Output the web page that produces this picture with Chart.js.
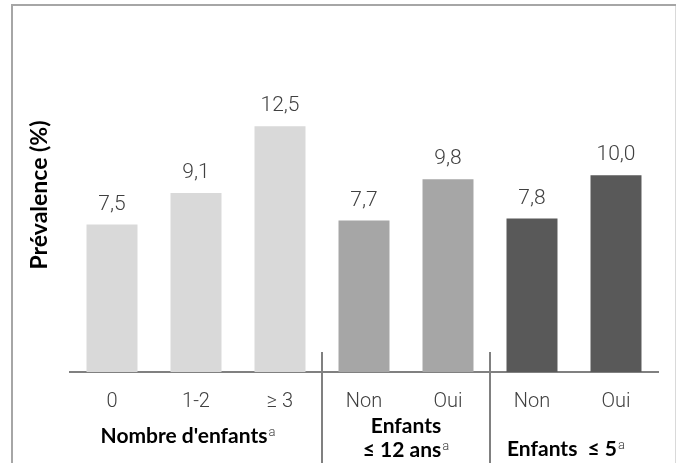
<!DOCTYPE html>
<html>
<head>
<meta charset="utf-8">
<script src="https://cdn.jsdelivr.net/npm/chart.js@4"></script>
<style>
  html, body { margin: 0; padding: 0; background: #fff; }
  #wrap { position: relative; width: 677px; height: 463px; }
</style>
</head>
<body>
<div id="wrap"><canvas id="chart" width="677" height="463"></canvas></div>
<script>
// Data
const CATEGORIES = ['0', '1-2', '≥ 3', 'Non', 'Oui', 'Non', 'Oui'];
const PREVALENCE = [7.5, 9.1, 12.5, 7.7, 9.8, 7.8, 10.0];
const GROUP_TITLES = [["Nombre d'enfants"], ['Enfants', '≤ 12 ans'], ['Enfants  ≤ 5']];
const GROUP_START = [0, 3, 5];
const GROUP_END   = [2, 4, 6];
const Y_TITLE = 'Prévalence (%)';
const Y_MAX = 18;

// Styles
const BAR_COLORS = ['#d9d9d9', '#d9d9d9', '#d9d9d9', '#a6a6a6', '#a6a6a6', '#595959', '#595959'];
const TEXT_DARK  = '#404040';
const LINE_GRAY  = '#808080';
const LIGHT_FONT = '"Roboto", "Open Sans", sans-serif';
const BOLD_FONT  = '"Lato", "Noto Sans", sans-serif';
const GROUP_FONT = 'bold 21px ' + BOLD_FONT;
const SUP_FONT   = '300 13px ' + LIGHT_FONT;

function fmt(v) { return v.toFixed(1).replace('.', ','); }

// Draw text with an optional superscript "a", the whole thing centred on x
function drawWithSup(ctx, text, sup, x, y) {
  ctx.font = GROUP_FONT;
  const w1 = ctx.measureText(text).width;
  ctx.font = SUP_FONT;
  const w2 = sup ? ctx.measureText(sup).width + 1 : 0;
  const left = x - (w1 + w2) / 2;
  ctx.textAlign = 'left';
  ctx.textBaseline = 'middle';
  ctx.fillStyle = '#000';
  ctx.font = GROUP_FONT;
  ctx.fillText(text, left, y);
  if (sup) {
    ctx.fillStyle = TEXT_DARK;
    ctx.font = SUP_FONT;
    ctx.fillText(sup, left + w1 + 1, y - 3);
  }
}

const decor = {
  id: 'decor',
  beforeDraw(chart) {
    const ctx = chart.ctx;
    ctx.save();
    ctx.fillStyle = '#fff';
    ctx.fillRect(0, 0, chart.width, chart.height);
    // outer frame (bottom edge runs off the picture)
    ctx.strokeStyle = '#a6a6a6';
    ctx.lineWidth = 2;
    ctx.beginPath();
    ctx.moveTo(12, chart.height);
    ctx.lineTo(12, 5);
    ctx.lineTo(676, 5);
    ctx.stroke();
    ctx.strokeStyle = '#d9d9d9';
    ctx.lineWidth = 1;
    ctx.beginPath();
    ctx.moveTo(675.5, 6);
    ctx.lineTo(675.5, chart.height);
    ctx.stroke();
    ctx.restore();
  },
  afterDatasetsDraw(chart) {
    const ctx = chart.ctx;
    const meta = chart.getDatasetMeta(0);
    ctx.save();
    ctx.font = '300 21px ' + LIGHT_FONT;
    ctx.fillStyle = TEXT_DARK;
    ctx.textAlign = 'center';
    ctx.textBaseline = 'alphabetic';
    meta.data.forEach((bar, i) => {
      ctx.fillText(fmt(PREVALENCE[i]), bar.x, bar.y - 15);
    });
    ctx.restore();
  },
  afterDraw(chart) {
    const ctx = chart.ctx;
    const xs = chart.scales.x;
    const area = chart.chartArea;
    ctx.save();
    // separators between groups
    ctx.strokeStyle = LINE_GRAY;
    ctx.lineWidth = 2;
    GROUP_END.slice(0, -1).forEach(end => {
      const x = Math.round((xs.getPixelForValue(end) + xs.getPixelForValue(end + 1)) / 2);
      ctx.beginPath();
      ctx.moveTo(x, area.bottom - 20);
      ctx.lineTo(x, chart.height);
      ctx.stroke();
    });
    // group titles (first and last sit a little left of the group centre)
    GROUP_TITLES.forEach((lines, g) => {
      const cx = (xs.getPixelForValue(GROUP_START[g]) + xs.getPixelForValue(GROUP_END[g])) / 2;
      if (lines.length === 1) {
        const y = g === 0 ? area.bottom + 64 : area.bottom + 77;
        drawWithSup(ctx, lines[0], 'a', cx - 8, y);
      } else {
        drawWithSup(ctx, lines[0], '', cx, area.bottom + 54);
        drawWithSup(ctx, lines[1], 'a', cx, area.bottom + 78);
      }
    });
    // y axis title
    ctx.translate(40, (area.top + area.bottom) / 2);
    ctx.rotate(-Math.PI / 2);
    ctx.font = 'bold 23px ' + BOLD_FONT;
    ctx.fillStyle = '#000';
    ctx.textAlign = 'center';
    ctx.textBaseline = 'middle';
    ctx.fillText(Y_TITLE, 0, 0);
    ctx.restore();
  }
};

new Chart(document.getElementById('chart'), {
  type: 'bar',
  data: {
    labels: CATEGORIES,
    datasets: [{
      data: PREVALENCE,
      backgroundColor: BAR_COLORS,
      borderWidth: 0,
      categoryPercentage: 1,
      barPercentage: 0.607,
    }]
  },
  options: {
    responsive: false,
    animation: false,
    devicePixelRatio: 1,
    layout: { padding: { left: 70, right: 19, top: 18, bottom: 0 } },
    plugins: { legend: { display: false }, tooltip: { enabled: false } },
    scales: {
      x: {
        afterFit(scale) { scale.height = 91; },
        grid: { display: false, drawTicks: false },
        border: { display: true, color: LINE_GRAY, width: 2 },
        ticks: { color: TEXT_DARK, font: { family: LIGHT_FONT, size: 20, weight: '300' }, padding: 18, maxRotation: 0 },
      },
      y: { display: false, min: 0, max: Y_MAX },
    },
  },
  plugins: [decor],
});
</script>
</body>
</html>
